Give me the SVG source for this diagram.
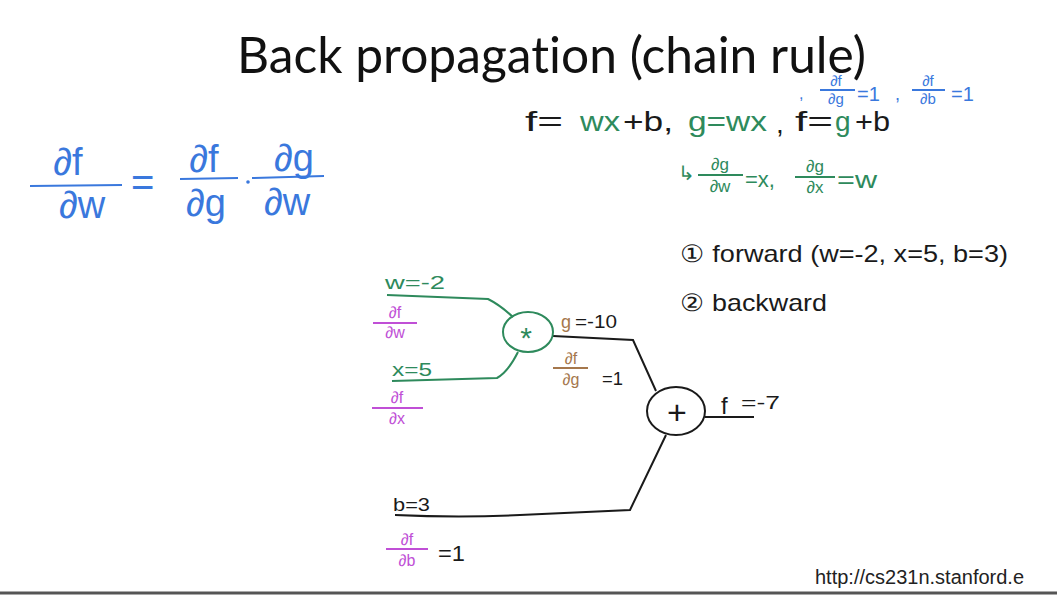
<svg xmlns="http://www.w3.org/2000/svg" width="1057" height="595" viewBox="0 0 1057 595">
<style>
text{font-family:"Liberation Sans",Arial,sans-serif}
.t{font-family:Lato,"Open Sans",sans-serif;font-size:50px;fill:#111;font-variant-ligatures:none}
.blue{fill:#3a78dd}.green{fill:#2e8a5c}.blk{fill:#1a1a1a}.pur{fill:#c04fd6}.brn{fill:#a5774c}
.m{text-anchor:middle}
.bl{stroke:#3a78dd;stroke-width:2;fill:none}.gl{stroke:#2e8a5c;stroke-width:2;fill:none}
.pl{stroke:#c04fd6;stroke-width:2;fill:none}.brl{stroke:#a5774c;stroke-width:2;fill:none}
.kl{stroke:#1a1a1a;stroke-width:2;fill:none}
.url{font-family:"Liberation Sans",Arial,sans-serif;font-size:20px;fill:#222}
</style>
<rect width="1057" height="595" fill="#fff"/>
<text class="t" x="237" y="73" textLength="629" lengthAdjust="spacingAndGlyphs">Back propagation (chain rule)</text>

<g id="chain-rule" font-size="38">
<text class="blue m" x="68" y="175">∂f</text>
<line class="bl" x1="30" y1="186" x2="122" y2="185"/>
<text class="blue m" x="82" y="218">∂w</text>
<text class="blue" x="131" y="196" font-size="40">=</text>
<text class="blue m" x="204" y="172">∂f</text>
<line class="bl" x1="180" y1="179" x2="238" y2="178"/>
<text class="blue m" x="206" y="216">∂g</text>
<circle cx="248" cy="182" r="1.8" fill="#3a78dd"/>
<text class="blue m" x="294" y="171">∂g</text>
<line class="bl" x1="252" y1="178" x2="324" y2="176"/>
<text class="blue m" x="287" y="215">∂w</text>
</g>

<g id="grads-top" font-size="15">
<text class="blue" x="799" y="99" font-size="16">,</text>
<text class="blue m" x="836" y="86">∂f</text>
<line class="bl" x1="820" y1="90" x2="855" y2="90"/>
<text class="blue m" x="836" y="104">∂g</text>
<text class="blue" x="857" y="101" font-size="20">=1</text>
<text class="blue" x="895" y="100" font-size="18">,</text>
<text class="blue m" x="928" y="86">∂f</text>
<line class="bl" x1="912" y1="90" x2="945" y2="90"/>
<text class="blue m" x="928" y="104">∂b</text>
<text class="blue" x="951" y="101" font-size="20">=1</text>
</g>

<g id="equations" font-size="28">
<text class="blk" x="525" y="131" textLength="38" lengthAdjust="spacingAndGlyphs">f=</text>
<text class="green" x="580" y="131" textLength="40" lengthAdjust="spacingAndGlyphs">wx</text>
<text class="blk" x="623" y="131" textLength="50" lengthAdjust="spacingAndGlyphs">+b,</text>
<text class="green" x="688" y="131" textLength="79" lengthAdjust="spacingAndGlyphs">g=wx</text>
<text class="blk" x="776" y="133">,</text>
<text class="blk" x="795" y="131" textLength="38" lengthAdjust="spacingAndGlyphs">f=</text>
<text class="green" x="835" y="131">g</text>
<text class="blk" x="855" y="131" textLength="35" lengthAdjust="spacingAndGlyphs">+b</text>
<text class="green" x="678" y="180" font-size="20">↳</text>
<text class="green m" x="720" y="170" font-size="17">∂g</text>
<line class="gl" x1="698" y1="175" x2="743" y2="175"/>
<text class="green m" x="720" y="192" font-size="17">∂w</text>
<text class="green" x="745" y="187" font-size="22">=x,</text>
<text class="green m" x="815" y="172" font-size="17">∂g</text>
<line class="gl" x1="795" y1="177" x2="835" y2="177"/>
<text class="green m" x="815" y="193" font-size="17">∂x</text>
<text class="green" x="837" y="188" font-size="24" textLength="40" lengthAdjust="spacingAndGlyphs">=w</text>
</g>

<g id="steps" font-size="24">
<text class="blk" x="680" y="262" textLength="328" lengthAdjust="spacingAndGlyphs">① forward (w=-2, x=5, b=3)</text>
<text class="blk" x="680" y="311" textLength="147" lengthAdjust="spacingAndGlyphs">② backward</text>
</g>

<g id="connectors">
<path class="gl" d="M387 295 L488 299 Q500 305 513 317"/>
<path class="gl" d="M392 381 L497 378 Q508 372 518 352"/>
<path class="kl" d="M553 336 L633 340 L656 391"/>
<path class="kl" d="M395 515 Q460 518 520 515 L630 510 L666 435"/>
<path class="kl" d="M705 417 L754 417"/>
</g>

<g id="node-w" font-size="18">
<text class="green" x="385" y="289" textLength="60" lengthAdjust="spacingAndGlyphs">w=-2</text>
<text class="pur m" x="395" y="318" font-size="16">∂f</text>
<line class="pl" x1="373" y1="323" x2="417" y2="323"/>
<text class="pur m" x="395" y="338" font-size="16">∂w</text>
</g>
<g id="node-x" font-size="18">
<text class="green" x="392" y="376" textLength="40" lengthAdjust="spacingAndGlyphs">x=5</text>
<text class="pur m" x="397" y="403" font-size="16">∂f</text>
<line class="pl" x1="372" y1="408" x2="423" y2="408"/>
<text class="pur m" x="397" y="424" font-size="16">∂x</text>
</g>
<g id="node-mul">
<ellipse cx="528" cy="332" rx="25" ry="20" class="gl"/>
<text class="green m" x="526" y="348" font-size="30">*</text>
</g>
<g id="node-g" font-size="18">
<text class="brn" x="561" y="328">g</text>
<text class="blk" x="575" y="328" textLength="42" lengthAdjust="spacingAndGlyphs">=-10</text>
<text class="brn m" x="571" y="364" font-size="16">∂f</text>
<line class="brl" x1="553" y1="368" x2="588" y2="368"/>
<text class="brn m" x="571" y="385" font-size="16">∂g</text>
<text class="blk" x="602" y="385" textLength="21" lengthAdjust="spacingAndGlyphs">=1</text>
</g>
<g id="node-add">
<ellipse cx="676" cy="411" rx="29" ry="24" class="kl"/>
<text class="blk m" x="677" y="424" font-size="34">+</text>
</g>
<g id="node-f" font-size="18">
<text class="blk" x="721" y="414" font-size="24">f</text>
<text class="blk" x="741" y="409" textLength="39" lengthAdjust="spacingAndGlyphs">=-7</text>
</g>
<g id="node-b" font-size="18">
<text class="blk" x="393" y="511" textLength="37" lengthAdjust="spacingAndGlyphs">b=3</text>
<text class="pur m" x="407" y="545" font-size="16">∂f</text>
<line class="pl" x1="386" y1="549" x2="428" y2="549"/>
<text class="pur m" x="407" y="566" font-size="16">∂b</text>
<text class="blk" x="438" y="561" font-size="22" textLength="27" lengthAdjust="spacingAndGlyphs">=1</text>
</g>

<text class="url" x="815" y="584">http://cs231n.stanford.e</text>
<line x1="0" y1="593" x2="1057" y2="593" stroke="#555" stroke-width="3"/>
</svg>
